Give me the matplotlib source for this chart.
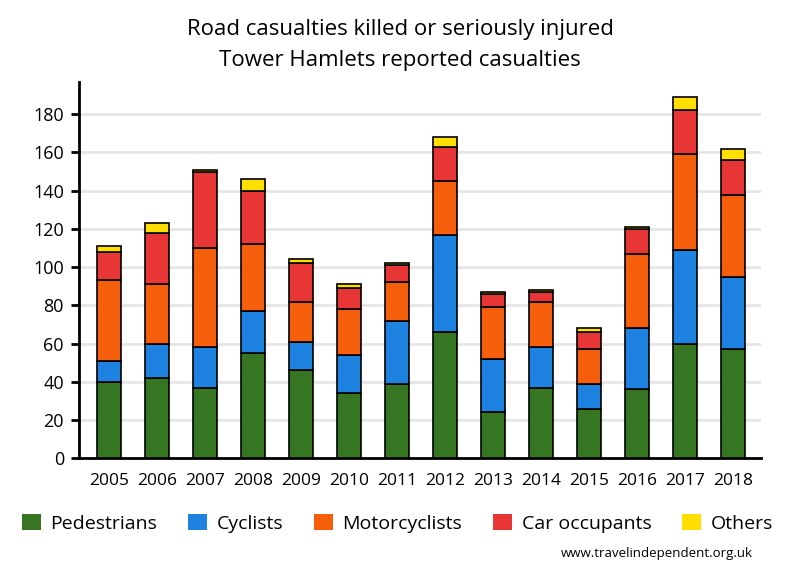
import numpy as np
import matplotlib
matplotlib.use("Agg")
import matplotlib.pyplot as plt
from matplotlib.patches import Patch

plt.rcParams['font.family'] = ['Open Sans', 'DejaVu Sans']

# Data
years = ['2005', '2006', '2007', '2008', '2009', '2010', '2011',
         '2012', '2013', '2014', '2015', '2016', '2017', '2018']
pedestrians = [40, 42, 37, 55, 46, 34, 39, 66, 24, 37, 26, 36, 60, 57]
cyclists = [11, 18, 21, 22, 15, 20, 33, 51, 28, 21, 13, 32, 49, 38]
motorcyclists = [42, 31, 52, 35, 21, 24, 20, 28, 27, 24, 18, 39, 50, 43]
car_occupants = [15, 27, 40, 28, 20, 11, 9, 18, 7, 5, 9, 13, 23, 18]
others = [3, 5, 1, 6, 2, 2, 1, 5, 1, 1, 2, 1, 7, 6]

series = [
    ('Pedestrians', pedestrians, '#367522'),
    ('Cyclists', cyclists, '#1e83e0'),
    ('Motorcyclists', motorcyclists, '#f55f0b'),
    ('Car occupants', car_occupants, '#e83535'),
    ('Others', others, '#ffde00'),
]

fig = plt.figure(figsize=(8, 5.8), dpi=100)
ax = fig.add_axes([0.099, 0.21, 0.852, 0.649])

x = np.arange(len(years))
bottom = np.zeros(len(years))
for name, vals, col in series:
    vals = np.array(vals, dtype=float)
    ax.bar(x, vals, width=0.5, bottom=bottom, color=col,
           edgecolor='black', linewidth=1.2, zorder=3)
    bottom += vals

ax.set_xlim(-0.625, 13.58)
ax.set_ylim(0, 197)
ax.set_yticks(np.arange(0, 181, 20))
ax.set_xticks(x)
ax.set_xticklabels(years)
ax.grid(axis='y', color='#e6e6e6', linewidth=2, zorder=0)
ax.set_axisbelow(True)

for s in ['top', 'right']:
    ax.spines[s].set_visible(False)
for s in ['left', 'bottom']:
    ax.spines[s].set_linewidth(2)
ax.tick_params(axis='y', length=6, width=2, labelsize=13, pad=5)
ax.tick_params(axis='x', length=0, labelsize=12.5, pad=11)

fig.text(0.5, 0.949, 'Road casualties killed or seriously injured',
         ha='center', va='center', fontsize=16)
fig.text(0.5, 0.896, 'Tower Hamlets reported casualties',
         ha='center', va='center', fontsize=16)

handles = [Patch(facecolor=col, edgecolor='none') for _, _, col in series]
labels = [name for name, _, _ in series]
fig.legend(handles, labels, loc='center', bbox_to_anchor=(0.497, 0.098),
           ncol=5, frameon=False, fontsize=14, handlelength=0.95,
           handleheight=0.95, handletextpad=0.5, columnspacing=1.6)

fig.text(0.941, 0.045, 'www.travelindependent.org.uk', ha='right',
         va='center', fontsize=9.5)

fig.savefig('out.png', dpi=100)
